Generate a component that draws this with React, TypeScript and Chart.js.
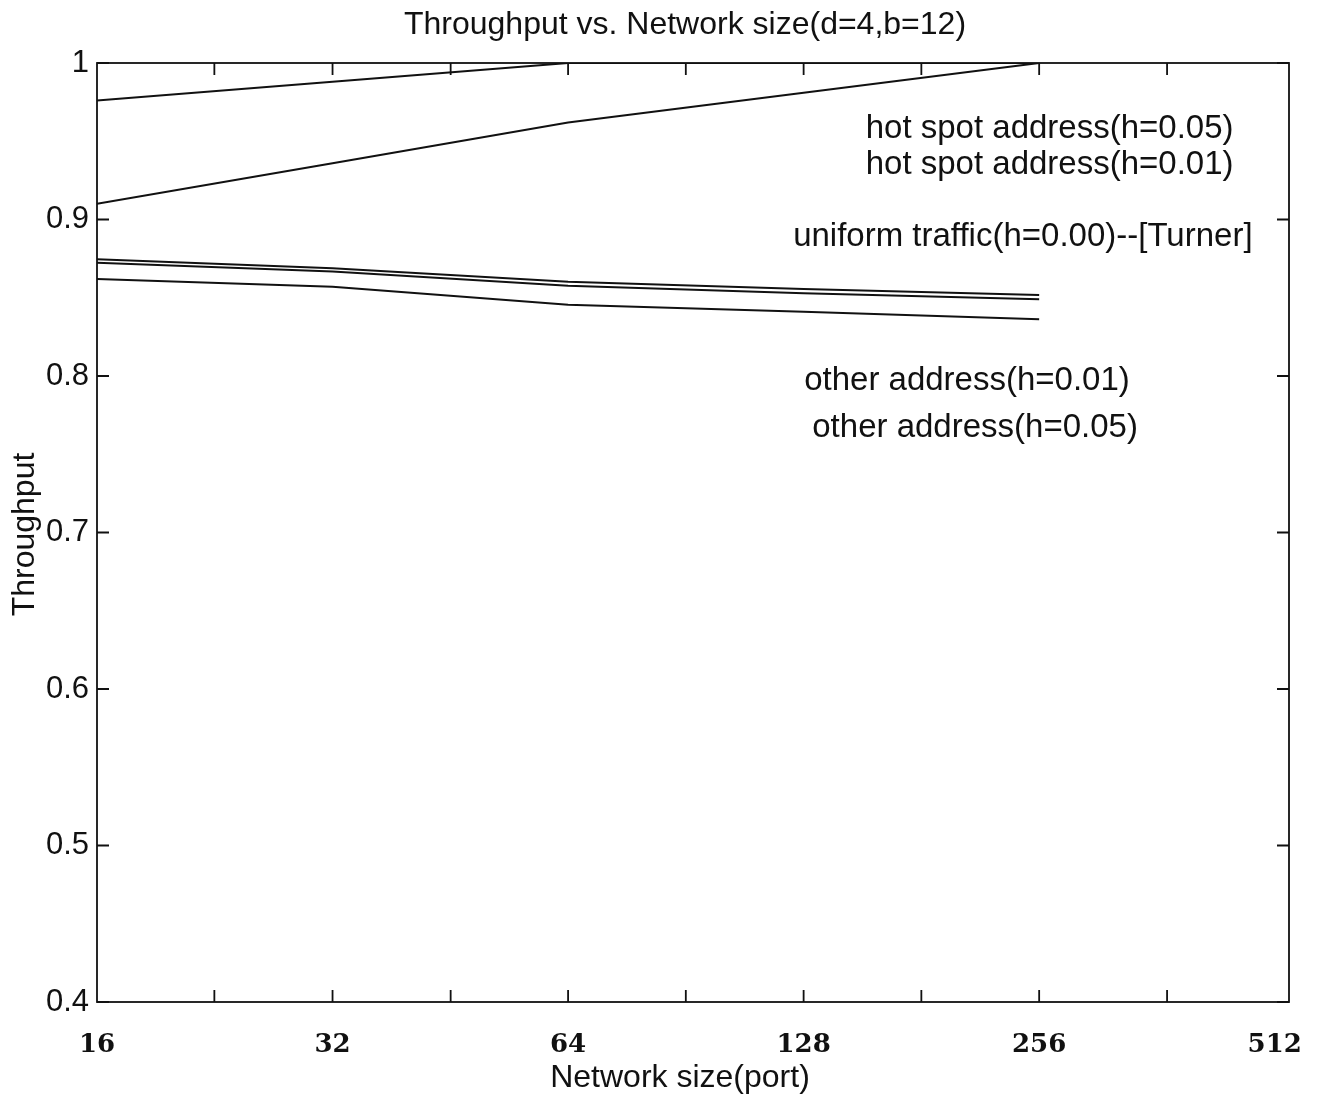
import React, { useEffect, useRef } from "react";
import { Chart, registerables } from "chart.js";

Chart.register(...registerables);

// Network sizes (ports) where throughput was evaluated
const networkSizes = [16, 32, 64, 128, 256];

// Throughput per traffic pattern
const hotSpot05 = [0.976, 0.988, 1.0, 1.0, 1.0];
const hotSpot01 = [0.91, 0.936, 0.962, 0.981, 1.0];
const uniformTurner = [0.8746, 0.8688, 0.8603, 0.8556, 0.8518];
const other01 = [0.8724, 0.8667, 0.8577, 0.8528, 0.849];
const other05 = [0.862, 0.857, 0.8456, 0.8411, 0.8362];

// Axis ticks
const xTickLabels = [16, 32, 64, 128, 256, 512];
const xTickMarks = [22.6, 32, 45.3, 64, 90.5, 128, 181, 256, 373];
const yTickValues = [0.4, 0.5, 0.6, 0.7, 0.8, 0.9, 1.0];

// In-plot curve labels (network size, throughput at text centre)
const labelTexts = [
  "hot spot address(h=0.05)",
  "hot spot address(h=0.01)",
  "uniform traffic(h=0.00)--[Turner]",
  "other address(h=0.01)",
  "other address(h=0.05)",
];
const labelSizes = [264, 264, 244, 207, 212];
const labelThroughput = [0.958, 0.935, 0.889, 0.797, 0.767];

const chartTitle = "Throughput vs. Network size(d=4,b=12)";
const xTitle = "Network size(port)";
const yTitle = "Throughput";

const INK = "#111";
const SANS = '"Liberation Sans", Arial, Helvetica, sans-serif';

const toPoints = (vals: number[]) => vals.map((v, i) => ({ x: networkSizes[i], y: v }));

const framePlugin = {
  id: "frameAndText",
  afterDatasetsDraw(chart: any) {
    const { ctx, chartArea, scales } = chart;
    const { left, right, top, bottom } = chartArea;
    const x = scales.x;
    const y = scales.y;
    ctx.save();
    ctx.strokeStyle = INK;
    ctx.lineWidth = 1.8;
    ctx.strokeRect(left, top, right - left, bottom - top);

    const L = 12;
    ctx.beginPath();
    xTickMarks.forEach((v) => {
      const px = x.getPixelForValue(v);
      ctx.moveTo(px, bottom);
      ctx.lineTo(px, bottom - L);
      ctx.moveTo(px, top);
      ctx.lineTo(px, top + L);
    });
    yTickValues.forEach((v) => {
      const py = y.getPixelForValue(v);
      ctx.moveTo(left, py);
      ctx.lineTo(left + L, py);
      ctx.moveTo(right, py);
      ctx.lineTo(right - L, py);
    });
    ctx.stroke();

    ctx.fillStyle = INK;
    ctx.textAlign = "center";
    ctx.textBaseline = "middle";
    ctx.font = `33px ${SANS}`;
    labelTexts.forEach((t, i) => {
      ctx.fillText(t, x.getPixelForValue(labelSizes[i]), y.getPixelForValue(labelThroughput[i]));
    });

    ctx.font = `32px ${SANS}`;
    const cx = (left + right) / 2 - 8;
    ctx.fillText(chartTitle, cx, 25);
    ctx.fillText(xTitle, cx - 5, 1078);

    ctx.translate(25, (top + bottom) / 2 + 2);
    ctx.rotate(-Math.PI / 2);
    ctx.fillText(yTitle, 0, 0);
    ctx.restore();
  },
};

export default function App() {
  const canvasRef = useRef<HTMLCanvasElement | null>(null);

  useEffect(() => {
    const canvas = canvasRef.current;
    if (!canvas) return;
    const lineStyle = {
      borderColor: INK,
      borderWidth: 2,
      pointRadius: 0,
      fill: false,
      tension: 0,
    };
    const chart = new Chart(canvas, {
      type: "line",
      data: {
        datasets: [
          { label: labelTexts[0], data: toPoints(hotSpot05), ...lineStyle },
          { label: labelTexts[1], data: toPoints(hotSpot01), ...lineStyle },
          { label: labelTexts[2], data: toPoints(uniformTurner), ...lineStyle },
          { label: labelTexts[3], data: toPoints(other01), ...lineStyle },
          { label: labelTexts[4], data: toPoints(other05), ...lineStyle },
        ],
      },
      options: {
        responsive: false,
        animation: false,
        layout: { padding: { left: 0, right: 42, top: 63, bottom: 0 } },
        plugins: {
          legend: { display: false },
          title: { display: false },
          tooltip: { enabled: false },
        },
        scales: {
          x: {
            type: "logarithmic",
            min: 16,
            max: 534,
            grid: { display: false, drawTicks: false },
            border: { display: false },
            afterBuildTicks: (scale: any) => {
              scale.ticks = xTickLabels.map((v) => ({ value: v }));
            },
            afterFit: (scale: any) => {
              scale.height = 96;
            },
            ticks: {
              autoSkip: false,
              maxRotation: 0,
              padding: 28,
              color: INK,
              font: { family: '"DejaVu Serif", "Liberation Serif", serif', size: 26, weight: "bold" },
              callback: (v: any) => String(v),
            },
          },
          y: {
            type: "linear",
            min: 0.4,
            max: 1.0,
            grid: { display: false, drawTicks: false },
            border: { display: false },
            afterBuildTicks: (scale: any) => {
              scale.ticks = yTickValues.map((v) => ({ value: v }));
            },
            afterFit: (scale: any) => {
              scale.width = 97;
            },
            ticks: {
              padding: 8,
              color: INK,
              font: { family: SANS, size: 31 },
              callback: (v: any) => (Math.abs(v - 1) < 1e-9 ? "1" : Number(v).toFixed(1)),
            },
          },
        },
      },
      plugins: [framePlugin],
    } as any);
    return () => chart.destroy();
  }, []);

  return (
    <div style={{ position: "absolute", left: 0, top: 0, width: 1331, height: 1098, background: "#fff" }}>
      <canvas ref={canvasRef} width={1331} height={1098} style={{ display: "block" }} />
    </div>
  );
}
